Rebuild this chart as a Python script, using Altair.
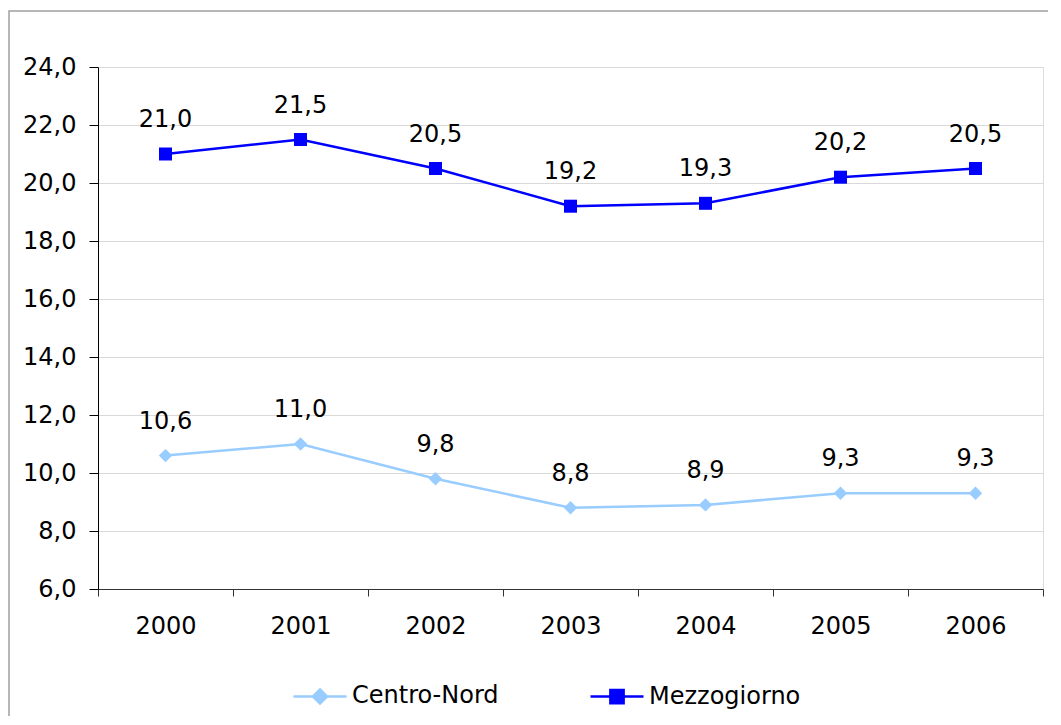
import altair as alt
import pandas as pd

years = ["2000", "2001", "2002", "2003", "2004", "2005", "2006"]
centro_nord = [10.6, 11.0, 9.8, 8.8, 8.9, 9.3, 9.3]
mezzogiorno = [21.0, 21.5, 20.5, 19.2, 19.3, 20.2, 20.5]
series = ["Centro-Nord", "Mezzogiorno"]
colors = ["#99CCFF", "#0000FF"]
y_ticks = [6, 8, 10, 12, 14, 16, 18, 20, 22, 24]

rows = []
for name, vals in zip(series, [centro_nord, mezzogiorno]):
    for yr, v in zip(years, vals):
        rows.append({"anno": yr, "valore": v, "serie": name,
                     "etichetta": f"{v:.1f}".replace(".", ",")})
df = pd.DataFrame(rows)

FONT = "DejaVu Sans"
FS = 24
DIAMOND_LEG = "M-1,0L1,0M0,-0.265L0.265,0L0,0.265L-0.265,0Z"
SQUARE_LEG = "M-1,0L1,0M-0.25,-0.25L0.25,-0.25L0.25,0.25L-0.25,0.25Z"

x_enc = alt.X("anno:O", bandPosition=0.5,
              scale=alt.Scale(type="band", paddingInner=0, paddingOuter=0),
              axis=alt.Axis(title=None, labelAngle=0, tickBand="extent", tickSize=7,
                            labelPadding=18, labelFontSize=FS, labelFont=FONT,
                            labelColor="black", domainColor="#333333",
                            tickColor="#333333", grid=False))
y_enc = alt.Y("valore:Q",
              scale=alt.Scale(domain=[6, 24], nice=False, zero=False),
              axis=alt.Axis(title=None, values=y_ticks, tickSize=9, labelPadding=13,
                            labelExpr="replace(format(datum.value, '.1f'), '.', ',')",
                            labelFontSize=FS, labelFont=FONT, labelColor="black",
                            domainColor="black", tickColor="black",
                            gridColor="#D9D9D9", grid=True))

# data-driven domain (alphabetical) so it is not merged with the legend scales below
color_enc = alt.Color("serie:N", scale=alt.Scale(range=colors), legend=None)

legend = alt.Legend(
    title=None, orient="none", legendX=194, legendY=601, direction="horizontal",
    symbolSize=2809, labelFontSize=FS, labelFont=FONT, labelColor="black",
    labelOffset=4, columnPadding=86, symbolStrokeWidth=2.5, symbolOpacity=1)

base = alt.Chart(df)

lines = base.mark_line(strokeWidth=2.5).encode(x=x_enc, y=y_enc, color=color_enc)
pts_cn = base.transform_filter(alt.datum.serie == series[0]).mark_point(
    filled=True, size=180, opacity=1, shape="diamond").encode(x=x_enc, y=y_enc, color=color_enc)
pts_mz = base.transform_filter(alt.datum.serie == series[1]).mark_point(
    filled=True, size=169, opacity=1, shape="square").encode(x=x_enc, y=y_enc, color=color_enc)
labels = base.mark_text(dy=-34, fontSize=FS, font=FONT, color="black").encode(
    x=x_enc, y=y_enc, text="etichetta:N")

# legend-only layer: its marks sit outside the clipped plot area
legend_layer = base.mark_point(opacity=1, strokeWidth=2.5, clip=True).encode(
    x=x_enc, y=alt.value(-2000),
    fill=alt.Fill("serie:N", scale=alt.Scale(domain=series, range=colors), legend=legend),
    stroke=alt.Stroke("serie:N", scale=alt.Scale(domain=series, range=colors), legend=legend),
    shape=alt.Shape("serie:N", scale=alt.Scale(domain=series, range=[DIAMOND_LEG, SQUARE_LEG]),
                    legend=legend))

frame = alt.Chart(alt.Data(values=[{}])).mark_rect(
    fill=None, stroke="#A0A0A0", strokeWidth=1.5).encode(
    x=alt.value(-89), x2=alt.value(1000), y=alt.value(-56), y2=alt.value(720))

chart = alt.layer(frame, lines, pts_cn, pts_mz, labels, legend_layer).properties(
    width=945, height=522,
    autosize=alt.AutoSizeParams(type="none"),
    padding={"left": 90, "top": 59, "right": 5, "bottom": 127},
).configure_view(stroke=None).configure(font=FONT)

chart.save("out.html", embed_options={"renderer": "svg", "actions": False})
